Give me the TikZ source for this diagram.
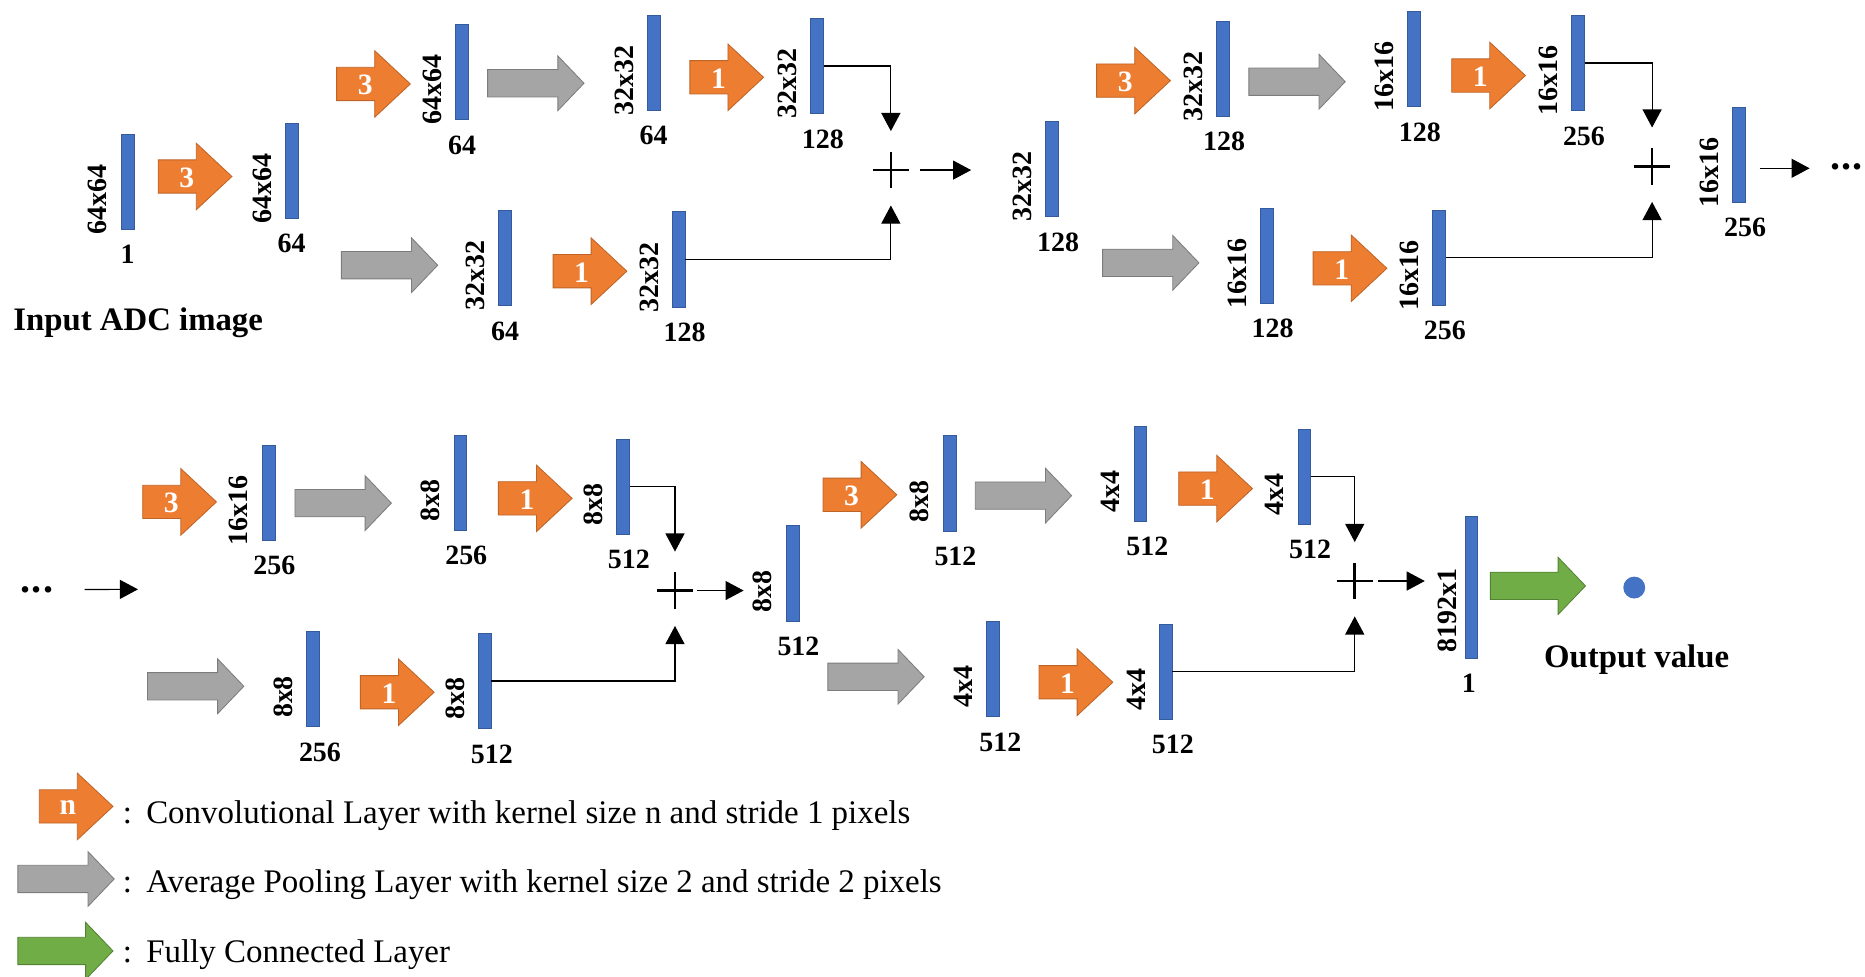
\documentclass[tikz,border=0pt]{standalone}
\usepackage{fontspec}
\setmainfont{Liberation Serif}
\usetikzlibrary{calc}
\usetikzlibrary{arrows.meta}

\definecolor{barblue}{HTML}{4472C4}
\definecolor{convorange}{HTML}{ED7D31}
\definecolor{poolgray}{HTML}{A5A5A5}
\definecolor{fcgreen}{HTML}{70AD47}

% block arrows: left end of shaft at (x,y)
\newcommand{\convarrow}[4]{%
  \filldraw[convshape] (#2,#3) ++(0,-14) -- ++(32,0) -- ++(0,-14) -- ++(30,28)
    -- ++(-30,28) -- ++(0,-14) -- ++(-32,0) -- cycle;
  \node[convtext] (#1) at (#2+24,#3+1) {#4};}
\newcommand{\poolarrow}[2]{%
  \filldraw[poolshape] (#1,#2) ++(0,-11.5) -- ++(59,0) -- ++(0,-11.5) -- ++(22,23)
    -- ++(-22,23) -- ++(0,-11.5) -- ++(-59,0) -- cycle;}
\newcommand{\fcarrow}[2]{%
  \filldraw[fcshape] (#1,#2) ++(0,-11.5) -- ++(57,0) -- ++(0,-12.5) -- ++(23,24)
    -- ++(-23,24) -- ++(0,-12.5) -- ++(-57,0) -- cycle;}

\begin{document}
\begin{tikzpicture}[x=0.025cm, y=-0.025cm,
  >={Triangle[length=0.38cm,width=0.4cm]},
  bar/.style={draw=barblue!80!black, line width=0.3pt, fill=barblue,
    minimum width=0.27cm, minimum height=2cm, inner sep=0pt},
  dimtext/.style={font=\fontsize{16.7}{18}\selectfont\bfseries, rotate=90, inner sep=0pt},
  chantext/.style={font=\fontsize{16.7}{18}\selectfont\bfseries, inner sep=0pt, anchor=north},
  convshape/.style={fill=convorange, draw=convorange!80!black, line width=0.5pt},
  convtext/.style={font=\fontsize{17.7}{20}\selectfont\bfseries, text=white, inner sep=0pt},
  poolshape/.style={fill=poolgray, draw=poolgray!75!black, line width=0.5pt},
  fcshape/.style={fill=fcgreen, draw=fcgreen!75!black, line width=0.5pt},
  plusnode/.style={minimum size=0.75cm, inner sep=0pt},
  plusline/.style={line width=1.6pt},
  conn/.style={line width=0.7pt},
  bigtext/.style={font=\fontsize{19.6}{22}\selectfont\bfseries, inner sep=0pt},
  dotstext/.style={font=\fontsize{24}{26}\selectfont\bfseries, inner sep=0pt},
  legtext/.style={font=\fontsize{19.7}{22}\selectfont, inner sep=0pt, anchor=base west}]
\useasboundingbox (0,0) rectangle (1568,821.4);

% feature maps
\foreach \n/\x/\y/\dims/\chan/\dx in {a1/107.3/152.5/64x64/1/0, a2/245.2/143.5/64x64/64/0,
    a3/388.5/60.5/64x64/64/0, a4/549.6/52.5/32x32/64/0, a5/686.8/55.5/32x32/128/5,
    a6/424.6/217/32x32/64/0, a7/570.6/218/32x32/128/5,
    b1/884.6/142/32x32/128/5, b2/1028.2/57.5/32x32/128/1, b3/1188.7/49.7/16x16/128/5,
    b4/1326.7/53/16x16/256/5, b5/1065/215/16x16/128/5, b6/1209.7/216.5/16x16/256/5,
    b7/1462.2/130/16x16/256/5,
    c1/225.6/414.3/16x16/256/5, c2/387/405.8/8x8/256/5, c3/523.7/409/8x8/512/5,
    c4/263/571/8x8/256/6, c5/407.6/572.5/8x8/512/6, c6/666.3/482/8x8/512/5,
    c7/798.3/406.3/8x8/512/5, c8/958.7/398/4x4/512/6, c9/1096.5/400.5/4x4/512/5,
    c10/835/562.5/4x4/512/6, c11/980/564.5/4x4/512/6}{
  \node[bar] (\n) at (\x,\y) {};
  \node[dimtext] (dim-\n) at ($(\n.center)+(-25,15)$) {\dims};
  \node[chantext] (ch-\n) at ($(\n.south)+(\dx,13)$) {\chan};
}
\node[bar, minimum height=2.975cm] (c12) at (1237,493.5) {};
\node[dimtext] (dim-c12) at ($(c12.center)+(-20,20)$) {8192x1};
\node[chantext] (ch-c12) at ($(c12.south)+(-2,13)$) {1};

% layers
\foreach \k/\x/\y/\s in {k1/133/148.4/3, k2/283/70.6/3, k3/580/65/1, k4/465/228/1,
    k5/922/67.8/3, k6/1220.5/63.5/1, k7/1104/225.6/1, k8/120/422/3, k9/419/419/1,
    k10/303/582/1, k11/692/416/3, k12/991/410.8/1, k13/873.6/573.6/1, kn/33/678/n}
  \convarrow{\k}{\x}{\y}{\s};
\foreach \x/\y in {410/70, 287/223, 1050/68.7, 927/221, 248/423, 124/577,
    820/416.7, 696/569, 15/739}
  \poolarrow{\x}{\y};
\fcarrow{1253}{492.6}
\fcarrow{15}{799.5}

% additions
\foreach \p/\x/\y in {p1/749/143, p2/1389/140, p3/567.5/496.5, p4/1139/488.5}{
  \node[plusnode] (\p) at (\x,\y) {};
  \draw[plusline] (\p.north) -- (\p.south) (\p.west) -- (\p.east);
}
\draw[conn, ->] (a5.east) -| ($(p1.north)+(0,-17.5)$);
\draw[conn, ->] (a7.east) -| ($(p1.south)+(0,14.5)$);
\draw[conn, ->] (b4.east) -| ($(p2.north)+(0,-17.5)$);
\draw[conn, ->] (b6.east) -| ($(p2.south)+(0,14.5)$);
\draw[conn, ->] (c3.east) -| ($(p3.north)+(0,-17.5)$);
\draw[conn, ->] (c5.east) -| ($(p3.south)+(0,14.5)$);
\draw[conn, ->] (c9.east) -| ($(p4.north)+(0,-17.5)$);
\draw[conn, ->] (c11.east) -| ($(p4.south)+(0,14.5)$);

\node[dotstext] (dots1) at (1552.5,140.5) {.\kern0.8pt.\kern0.8pt.};
\node[dotstext] (dots2) at (31,495.6) {.\kern0.8pt.\kern0.8pt.};
\coordinate (row2in) at (116,495.5);
\draw[conn, ->] ($(p1.east)+(9,0)$) -- ($(p1.east -| b1.west)+(-62.5,0)$);
\draw[conn, ->] ($(b7.east |- p2)+(11.5,1.5)$) -- ($(dots1.west)+(-17,1)$);
\draw[conn, ->] ($(dots2.east)+(26,0)$) -- (row2in);
\draw[conn, ->] ($(p3.east)+(3.5,0)$) -- ($(p3.east -| c6.west)+(-35.5,0)$);
\draw[conn, ->] ($(p4.east)+(4,0)$) -- ($(p4.east -| c12.west)+(-33.5,0)$);

\node[circle, fill=barblue, minimum size=0.46cm, inner sep=0pt] (out) at (1374,494) {};
\node[bigtext, anchor=base] (outlab) at (1376,561.6) {Output value};
\node[bigtext, anchor=base west] (inlab) at (11,277.5) {Input ADC image};

% legend
\node[legtext] (leg-conv) at (103,692) {:\hskip 0.3cm Convolutional Layer with kernel size n and stride 1 pixels};
\node[legtext] (leg-pool) at (103,750) {:\hskip 0.3cm Average Pooling Layer with kernel size 2 and stride 2 pixels};
\node[legtext] (leg-fc) at (103,809) {:\hskip 0.3cm Fully Connected Layer};
\end{tikzpicture}
\end{document}
